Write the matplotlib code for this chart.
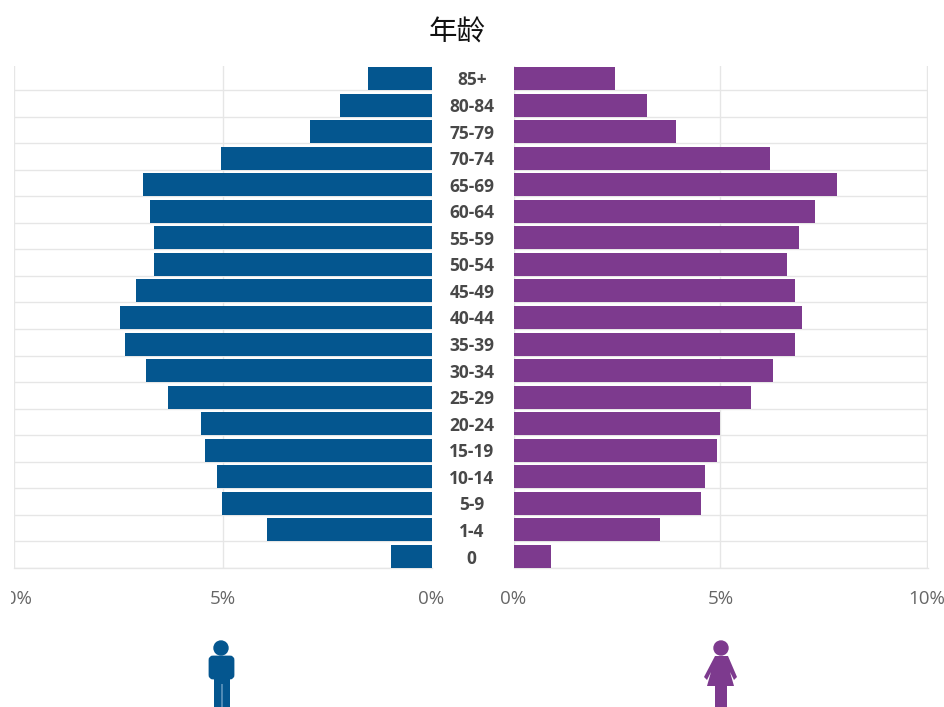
import matplotlib
matplotlib.use("Agg")
import matplotlib.pyplot as plt
from matplotlib.patches import Circle, Polygon, FancyBboxPatch, Rectangle
from matplotlib.transforms import Bbox

age_groups = ["0", "1-4", "5-9", "10-14", "15-19", "20-24", "25-29", "30-34", "35-39", "40-44",
              "45-49", "50-54", "55-59", "60-64", "65-69", "70-74", "75-79", "80-84", "85+"]
male = [0.97, 3.95, 5.02, 5.14, 5.43, 5.52, 6.31, 6.84, 7.34, 7.46,
        7.08, 6.65, 6.65, 6.74, 6.91, 5.05, 2.90, 2.18, 1.52]
female = [0.91, 3.54, 4.53, 4.63, 4.92, 4.99, 5.74, 6.27, 6.80, 6.97,
          6.80, 6.60, 6.90, 7.28, 7.81, 6.20, 3.93, 3.22, 2.45]
x_ticks = [0, 5, 10]
x_labels = ["0%", "5%", "10%"]
title = "年龄"

BLUE = "#04568f"
PURPLE = "#7d3a8e"
GRID = "#e6e6e6"
TICK = "#666666"
W, H = 944, 707
plt.rcParams["font.family"] = ["Open Sans", "DejaVu Sans"]

fig = plt.figure(figsize=(W / 100, H / 100), dpi=100)


def make_axes(x0, x1, y_top, y_bottom):
    return fig.add_axes([x0 / W, 1 - y_bottom / H, (x1 - x0) / W, (y_bottom - y_top) / H])


ax_l = make_axes(14, 431.5, 66, 568)
ax_r = make_axes(513.5, 928, 66, 568)
rows = list(range(len(age_groups)))
ylim = (-0.433, 18.47)

for ax, values, color, xlim in ((ax_l, male, BLUE, (9.97, 0)), (ax_r, female, PURPLE, (0, 10.02))):
    ax.barh(rows, values, height=0.866, color=color, zorder=3)
    ax.set_xlim(*xlim)
    ax.set_ylim(*ylim)
    ax.set_xticks(x_ticks)
    ax.set_xticklabels(x_labels, fontsize=13.5, color=TICK)
    ax.tick_params(axis="x", length=0, pad=16)
    ax.set_yticks([r - 0.433 for r in rows], minor=True)
    ax.tick_params(axis="y", which="minor", length=0)
    ax.grid(True, which="minor", axis="y", color=GRID, lw=1.0, zorder=1)
    ax.grid(True, which="major", axis="x", color=GRID, lw=1.0, zorder=1)
    for s in ("top", "right", "left"):
        ax.spines[s].set_visible(False)
    ax.spines["bottom"].set_color(GRID)
    ax.spines["bottom"].set_linewidth(1.0)
    ax.set_axisbelow(True)

# Clip the left "10%" label, cut off in the reference
for lab in ax_l.get_xticklabels():
    lab.set_clip_on(True)
    lab.set_clip_box(Bbox([[11, 0], [W, H]]))

# Central age labels as real tick labels of the left axes
ax_l.yaxis.tick_right()
ax_l.set_yticks(rows)
ax_l.set_yticklabels(age_groups, fontsize=12.5, fontweight="bold", color="#484848", ha="center")
ax_l.tick_params(axis="y", which="major", length=0, pad=29)
ax_r.set_yticks([])

fig.text(457.5 / W, 1 - 33 / H, title, ha="center", va="center", fontsize=20.5,
         family=["Noto Sans CJK SC", "DejaVu Sans"], color="#111111")

# Decorative person icons, pixel coordinates
ov = fig.add_axes([0, 0, 1, 1], facecolor="none")
ov.set_xlim(0, W)
ov.set_ylim(H, 0)
ov.axis("off")

# man
ov.add_patch(Circle((221, 648), 7, color=BLUE))
ov.add_patch(FancyBboxPatch((210, 657), 23, 21, boxstyle="round,pad=0,rounding_size=3",
                            fc=BLUE, ec=BLUE, lw=2))
ov.add_patch(Rectangle((214, 675), 16, 32, fc=BLUE, ec="none"))
ov.add_patch(Rectangle((221.3, 684), 1.3, 23, fc="#4f8ab5", ec="none"))
# woman
ov.add_patch(Circle((721, 648), 7, color=PURPLE))
ov.add_patch(Polygon([(715, 656), (728, 656), (737, 677), (734, 680), (730, 672), (734, 686),
                      (727, 686), (727, 707), (715, 707), (715, 686), (707, 686),
                      (711, 672), (707, 680), (704, 677)], closed=True, fc=PURPLE, ec="none"))

fig.savefig("out.png", dpi=100)
